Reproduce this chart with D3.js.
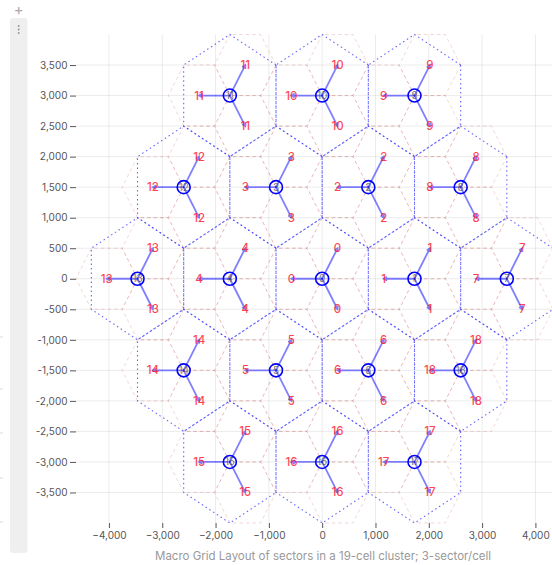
<!DOCTYPE html>
<html>
<head>
<meta charset="utf-8">
<script src="https://cdn.jsdelivr.net/npm/d3@7"></script>
<style>
  body { margin: 0; background: #fff; font-family: Inter, "Noto Sans", sans-serif; }
</style>
</head>
<body>
<div id="chart"></div>
<script>
document.addEventListener("DOMContentLoaded", () => {

const width = 552;
const height = 565;

// cell centres (metres), ids 0..18
const cellIds = [0, 1, 2, 3, 4, 5, 6, 7, 8, 9, 10, 11, 12, 13, 14, 15, 16, 17, 18];
const cellX = [0, 1732, 866, -866, -1732, -866, 866, 3464, 2598, 1732, 0, -1732, -2598, -3464, -2598, -1732, 0, 1732, 2598];
const cellY = [0, 0, 1500, 1500, 0, -1500, -1500, 0, 1500, 3000, 3000, 3000, 1500, 0, -1500, -3000, -3000, -3000, -1500];

// sector azimuths (deg) and distances
const sectorAngles = [180, 60, -60];
const sectorOffset = 577;
const cellRadius = 1000;
const sectorRadius = 577;

const xTicks = [-4000, -3000, -2000, -1000, 0, 1000, 2000, 3000, 4000];
const yTicks = [-3500, -3000, -2500, -2000, -1500, -1000, -500, 0, 500, 1000, 1500, 2000, 2500, 3000, 3500];
const caption = "Macro Grid Layout of sectors in a 19-cell cluster; 3-sector/cell";

const rad = d => d * Math.PI / 180;

const cells = cellIds.map((id, i) => ({ id, x: cellX[i], y: cellY[i] }));
const sectors = [];
cells.forEach(c => {
  sectorAngles.forEach(a => {
    sectors.push({ id: c.id, cx: c.x, cy: c.y,
      x: c.x + sectorOffset * Math.cos(rad(a)),
      y: c.y + sectorOffset * Math.sin(rad(a)) });
  });
});

const xScale = d3.scaleLinear().domain([-4618, 4330]).range([76, 553]);
const yScale = d3.scaleLinear().domain([-4000, 4000]).range([523, 34.5]);

const svg = d3.select("#chart").append("svg")
  .attr("width", width)
  .attr("height", height)
  .style("font-family", "Inter, 'Noto Sans', sans-serif");

// notebook chrome on the left
svg.append("rect")
  .attr("x", 10).attr("y", 18).attr("width", 17.5).attr("height", 535)
  .attr("rx", 3).attr("fill", "#efefef");
svg.append("text").attr("x", 18.7).attr("y", 15).attr("text-anchor", "middle")
  .attr("fill", "#aaa").attr("font-size", 15).text("+");
[26, 29.5, 33].forEach(y => {
  svg.append("circle").attr("cx", 18.7).attr("cy", y).attr("r", 1).attr("fill", "#999");
});
[337, 389, 433, 478, 522].forEach(y => {
  svg.append("line").attr("x1", 0).attr("x2", 3).attr("y1", y).attr("y2", y)
    .attr("stroke", "#ddd");
});

// grid
svg.append("g").selectAll("line").data(yTicks).join("line")
  .attr("x1", xScale.range()[0]).attr("x2", width)
  .attr("y1", d => yScale(d)).attr("y2", d => yScale(d))
  .attr("stroke", "#000").attr("stroke-opacity", 0.08);
svg.append("g").selectAll("line").data(xTicks).join("line")
  .attr("x1", d => xScale(d)).attr("x2", d => xScale(d))
  .attr("y1", yScale.range()[1]).attr("y2", yScale.range()[0])
  .attr("stroke", "#000").attr("stroke-opacity", 0.08);

// axes
const fmt = d3.format(",");
const yAxis = svg.append("g").attr("transform", `translate(${xScale.range()[0]},0)`)
  .call(d3.axisLeft(yScale).tickValues(yTicks).tickSize(6).tickPadding(2.5)
    .tickFormat(d => fmt(d).replace("−", "-")));
const xAxis = svg.append("g").attr("transform", `translate(0,${yScale.range()[0]})`)
  .call(d3.axisBottom(xScale).tickValues(xTicks).tickSize(5).tickPadding(4).tickFormat(fmt));
[yAxis, xAxis].forEach(ax => {
  ax.select(".domain").remove();
  ax.selectAll("line").attr("stroke", "#555");
  ax.selectAll("text").attr("fill", "#555").attr("font-size", 10)
    .style("font-family", "Inter, 'Noto Sans', sans-serif");
});

svg.append("text")
  .attr("x", 323).attr("y", 560)
  .attr("text-anchor", "middle")
  .attr("fill", "#999").attr("font-size", 11.5)
  .text(caption);

// hexagon paths in data space
const hexPath = (cx, cy, r, startDeg) => {
  const pts = d3.range(6).map(k => [
    xScale(cx + r * Math.cos(rad(startDeg + 60 * k))),
    yScale(cy + r * Math.sin(rad(startDeg + 60 * k)))
  ]);
  return "M" + pts.map(p => p.join(",")).join("L") + "Z";
};

// sector hexagons (flat-top)
svg.append("g").selectAll("path").data(sectors).join("path")
  .attr("d", d => hexPath(d.x, d.y, sectorRadius, 0))
  .attr("fill", "none")
  .attr("stroke", "#d06060").attr("stroke-opacity", 0.25)
  .attr("stroke-width", 1)
  .attr("stroke-dasharray", "3.5,3");

// cell hexagons (pointy-top)
svg.append("g").selectAll("path").data(cells).join("path")
  .attr("d", d => hexPath(d.x, d.y, cellRadius, 30))
  .attr("fill", "none")
  .attr("stroke", "#3333ff").attr("stroke-opacity", 0.75)
  .attr("stroke-width", 1.1)
  .attr("stroke-dasharray", "1.5,3");

// arrows centre -> sector
const arrowPath = d => {
  const x1 = xScale(d.cx), y1 = yScale(d.cy);
  const x2 = xScale(d.x), y2 = yScale(d.y);
  const a = Math.atan2(y2 - y1, x2 - x1);
  const h = 3;
  const w1 = [x2 - h * Math.cos(a - Math.PI / 6), y2 - h * Math.sin(a - Math.PI / 6)];
  const w2 = [x2 - h * Math.cos(a + Math.PI / 6), y2 - h * Math.sin(a + Math.PI / 6)];
  return `M${x1},${y1}L${x2},${y2}M${w1}L${x2},${y2}L${w2}`;
};
svg.append("g").selectAll("path").data(sectors).join("path")
  .attr("d", arrowPath)
  .attr("fill", "none")
  .attr("stroke", "#0000ff").attr("stroke-opacity", 0.5)
  .attr("stroke-width", 1.8)
  .attr("stroke-linecap", "round");

// centre markers
svg.append("g").selectAll("circle").data(cells).join("circle")
  .attr("cx", d => xScale(d.x)).attr("cy", d => yScale(d.y))
  .attr("r", 6.5)
  .attr("fill", "none")
  .attr("stroke", "#0000ff")
  .attr("stroke-width", 1.6);

// sector labels
svg.append("g").selectAll("text").data(sectors).join("text")
  .attr("x", d => xScale(d.x)).attr("y", d => yScale(d.y))
  .attr("dy", "0.35em")
  .attr("text-anchor", "middle")
  .attr("font-size", 11.5)
  .attr("font-weight", 500)
  .attr("fill", "#ff1f33").attr("fill-opacity", 0.85)
  .text(d => d.id);

// cell labels
svg.append("g").selectAll("text").data(cells).join("text")
  .attr("x", d => xScale(d.x)).attr("y", d => yScale(d.y))
  .attr("dy", "0.35em")
  .attr("text-anchor", "middle")
  .attr("font-size", 10)
  .attr("fill", "#444").attr("fill-opacity", 0.7)
  .text(d => d.id);

});
</script>
</body>
</html>
